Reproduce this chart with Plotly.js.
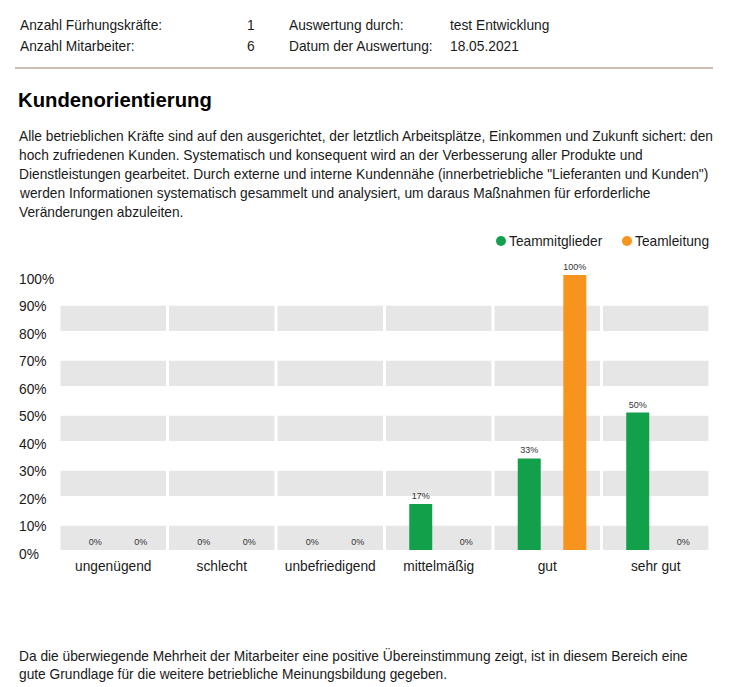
<!DOCTYPE html>
<html><head><meta charset="utf-8">
<script src="https://cdn.plot.ly/plotly-3.0.1.min.js"></script>
<style>html,body{margin:0;padding:0;background:#fff;}#chart{width:731px;height:687px;}</style>
</head><body><div id="chart"></div>
<script>
// ---- data ----
const categories = ['ungenügend', 'schlecht', 'unbefriedigend', 'mittelmäßig', 'gut', 'sehr gut'];
const seriesNames = ['Teammitglieder', 'Teamleitung'];
const teammitglieder = [0, 0, 0, 16.7, 33.3, 50];
const teamleitung = [0, 0, 0, 0, 100, 0];
const yTickValues = [0, 10, 20, 30, 40, 50, 60, 70, 80, 90, 100];
const yTickLabels = ['0%', '10%', '20%', '30%', '40%', '50%', '60%', '70%', '80%', '90%', '100%'];
const headerLabelsLeft = ['Anzahl Fürhungskräfte:', 'Anzahl Mitarbeiter:'];
const headerValuesLeft = ['1', '6'];
const headerLabelsRight = ['Auswertung durch:', 'Datum der Auswertung:'];
const headerValuesRight = ['test Entwicklung', '18.05.2021'];
const titleText = 'Kundenorientierung';
const introLines = [
  'Alle betrieblichen Kräfte sind auf den ausgerichtet, der letztlich Arbeitsplätze, Einkommen und Zukunft sichert: den',
  'hoch zufriedenen Kunden. Systematisch und konsequent wird an der Verbesserung aller Produkte und',
  'Dienstleistungen gearbeitet. Durch externe und interne Kundennähe (innerbetriebliche "Lieferanten und Kunden")',
  'werden Informationen systematisch gesammelt und analysiert, um daraus Maßnahmen für erforderliche',
  'Veränderungen abzuleiten.'
];
const footerLines = [
  'Da die überwiegende Mehrheit der Mitarbeiter eine positive Übereinstimmung zeigt, ist in diesem Bereich eine',
  'gute Grundlage für die weitere betriebliche Meinungsbildung gegeben.'
];

// ---- styling / geometry ----
const W = 731, H = 687, ML = 59, MR = 21, MT = 275, MB = 137;
const PW = W - ML - MR, PH = H - MT - MB;
const fx = px => (px - ML) / PW;
const fy = py => (H - MB - py) / PH;
const GREEN = '#12a04b', ORANGE = '#f7941d', BAND = '#e6e6e7', TXT = '#1a1a1a';
const FONT = 'Liberation Sans, Arial, Helvetica, sans-serif';
const FS = 13.75;

const annotations = [];
function txt(text, px, py, opts) {
  annotations.push(Object.assign({
    text: text, xref: 'paper', yref: 'paper', x: fx(px), y: fy(py),
    xanchor: 'left', yanchor: 'middle', showarrow: false,
    font: {family: FONT, size: FS, color: TXT}, borderpad: 0, borderwidth: 0
  }, opts || {}));
}
const headerY = [26, 46];
headerLabelsLeft.forEach((t, i) => txt(t, 20, headerY[i]));
headerValuesLeft.forEach((t, i) => txt(t, 247, headerY[i]));
headerLabelsRight.forEach((t, i) => txt(t, 289, headerY[i]));
headerValuesRight.forEach((t, i) => txt(t, 450, headerY[i]));
txt('<b>' + titleText + '</b>', 18, 100, {font: {family: FONT, size: 20.3, color: '#000'}});
introLines.forEach((t, i) => txt(t, 19, 136 + i * 19.2));
footerLines.forEach((t, i) => txt(t, 19, 655 + i * 19.2));

// legend (circle markers + labels)
const legendItems = [{name: seriesNames[0], color: GREEN, dot: 501, tx: 509}, {name: seriesNames[1], color: ORANGE, dot: 627, tx: 635}];
const shapes = [];
legendItems.forEach(it => {
  txt(it.name, it.tx, 241);
  shapes.push({type: 'circle', xref: 'paper', yref: 'paper', xsizemode: 'pixel', ysizemode: 'pixel',
    xanchor: fx(it.dot), yanchor: fy(241), x0: -5, x1: 5, y0: -5, y1: 5,
    fillcolor: it.color, line: {width: 0}});
});

// y tick labels, left aligned
yTickValues.forEach((v, i) => {
  annotations.push({text: yTickLabels[i], xref: 'paper', yref: 'y', x: fx(19), y: v, yshift: -4,
    xanchor: 'left', yanchor: 'middle', showarrow: false, borderpad: 0, borderwidth: 0,
    font: {family: FONT, size: FS, color: TXT}});
});

// header rule
shapes.push({type: 'line', xref: 'paper', yref: 'paper', x0: fx(15), x1: fx(713), y0: fy(68), y1: fy(68),
  line: {color: '#cbbfb1', width: 2}});

// grey bands per category
categories.forEach((c, i) => {
  for (let k = 0; k < 5; k++) {
    shapes.push({type: 'rect', xref: 'x', yref: 'y', layer: 'below',
      x0: i - 0.5 + 0.014, x1: i + 0.5 - 0.014, y0: 20 * k - 0.4, y1: 20 * k + 8.8,
      fillcolor: BAND, line: {width: 0}});
  }
});

const common = {type: 'bar', x: categories, width: 0.212, texttemplate: '%{y:.0f}%', textposition: 'outside',
  textfont: {family: FONT, size: 9, color: '#333'}, cliponaxis: false, showlegend: false, hoverinfo: 'skip'};
const traces = [
  Object.assign({}, common, {y: teammitglieder, name: seriesNames[0], offset: -0.272, marker: {color: GREEN}}),
  Object.assign({}, common, {y: teamleitung, name: seriesNames[1], offset: 0.148, marker: {color: ORANGE}})
];

const layout = {
  width: W, height: H, margin: {l: ML, r: MR, t: MT, b: MB, pad: 0},
  paper_bgcolor: '#fff', plot_bgcolor: 'rgba(0,0,0,0)',
  font: {family: FONT, size: FS, color: TXT},
  showlegend: false, barmode: 'group',
  xaxis: {type: 'category', range: [-0.5, 5.5], showgrid: false, zeroline: false, showline: false, ticks: '',
    tickfont: {family: FONT, size: FS, color: TXT}, ticklabelstandoff: 6, fixedrange: true},
  yaxis: {range: [0, 100], showgrid: false, zeroline: false, showline: false, showticklabels: false, ticks: '', fixedrange: true},
  shapes: shapes, annotations: annotations
};
Plotly.newPlot('chart', traces, layout, {displayModeBar: false, staticPlot: true});
</script></body></html>
